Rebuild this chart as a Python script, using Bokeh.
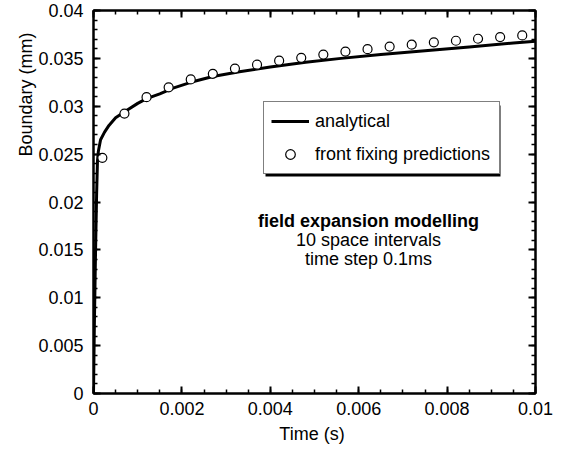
from bokeh.plotting import figure
from bokeh.models import (LinearAxis, SingleIntervalTicker, CustomJSTickFormatter,
                          Legend, LegendItem, Label, Range1d, BoxAnnotation, Title)
from bokeh.embed import file_html
from bokeh.resources import INLINE

# analytical solution
t_analytical = [0.0, 0.00002, 0.000045, 0.00007, 0.00009, 0.00011, 0.00016, 0.00025,
                0.00035, 0.0005, 0.00073, 0.001, 0.0012, 0.0015, 0.0018, 0.0022,
                0.0027, 0.0033, 0.004, 0.0048, 0.0056, 0.0065, 0.0075, 0.0085,
                0.0095, 0.01]
s_analytical = [0.0, 0.0073, 0.0145, 0.0207, 0.0243, 0.0253, 0.0265, 0.0273,
                0.0280, 0.0288, 0.0295, 0.0303, 0.0308, 0.0313, 0.0319, 0.0325,
                0.0331, 0.0336, 0.0341, 0.0346, 0.0350, 0.0354, 0.0358, 0.0362,
                0.0366, 0.0368]

# front fixing predictions
t_pred = [0.0002, 0.0007, 0.0012, 0.0017, 0.0022, 0.0027, 0.0032, 0.0037, 0.0042,
          0.0047, 0.0052, 0.0057, 0.0062, 0.0067, 0.0072, 0.0077, 0.0082, 0.0087,
          0.0092, 0.0097]
s_pred = [0.02461, 0.02923, 0.03095, 0.03198, 0.03280, 0.03339, 0.03393, 0.03434,
          0.03476, 0.03506, 0.03540, 0.03571, 0.03596, 0.03623, 0.03643, 0.03668,
          0.03684, 0.03705, 0.03722, 0.03740]

legend_labels = ["analytical", "front fixing predictions"]
note_lines = ["field expansion modelling", "10 space intervals", "time step 0.1ms"]
x_label = "Time  (s)"
y_label = "Boundary (mm)"

FONT = "Liberation Sans"
FS = "18px"

p = figure(width=554, height=447, x_range=Range1d(0, 0.01), y_range=Range1d(0, 0.04),
           output_backend="svg", toolbar_location=None,
           min_border_left=93, min_border_right=19, min_border_top=10, min_border_bottom=54)
p.grid.visible = False
p.outline_line_color = "black"
p.outline_line_width = 2
p.background_fill_color = "white"
p.border_fill_color = "white"

fmt = CustomJSTickFormatter(code="return String(Number(tick.toFixed(6)));")
xt = SingleIntervalTicker(interval=0.002, num_minor_ticks=4)
yt = SingleIntervalTicker(interval=0.005, num_minor_ticks=5)


def style(ax, labels=True):
    ax.axis_line_width = 2
    ax.axis_line_color = "black"
    ax.major_tick_in = 7
    ax.major_tick_out = 0
    ax.minor_tick_in = 4
    ax.minor_tick_out = 0
    ax.major_tick_line_width = 2
    ax.minor_tick_line_width = 1.5
    ax.major_tick_line_color = "black"
    ax.minor_tick_line_color = "black"
    if labels:
        ax.major_label_text_font = FONT
        ax.major_label_text_font_size = FS
        ax.major_label_text_color = "black"
        ax.axis_label_text_font = FONT
        ax.axis_label_text_font_size = FS
        ax.axis_label_text_font_style = "normal"
        ax.axis_label_text_color = "black"
    else:
        ax.major_label_text_font_size = "0px"
        ax.major_label_standoff = 0


xa = p.xaxis[0]
xa.ticker = xt
xa.formatter = fmt
style(xa)
xa.axis_label = x_label
xa.major_label_standoff = 8
xa.axis_label_standoff = 6

ya = p.yaxis[0]
ya.ticker = yt
ya.formatter = fmt
style(ya)
ya.major_label_standoff = 10

top = LinearAxis(ticker=xt, formatter=CustomJSTickFormatter(code="return '';"))
style(top, labels=False)
p.add_layout(top, "above")
right = LinearAxis(ticker=yt, formatter=CustomJSTickFormatter(code="return '';"))
style(right, labels=False)
p.add_layout(right, "right")

# y axis title, placed near the top of the axis as in the original
p.add_layout(Title(text=y_label, align="right", offset=22, standoff=0,
                   text_font=FONT, text_font_size=FS, text_font_style="normal",
                   text_color="black"), "left")

line_r = p.line(t_analytical, s_analytical, line_width=3, line_color="black")
sc_r = p.scatter(t_pred, s_pred, marker="circle", size=9, fill_color="white",
                 line_color="black", line_width=1.2)

# legend with a drop shadow
LEG_X, LEG_Y = 170, 219
PAD, GW, STAND, LW, LH, SP = 7, 38, 6, 177, 24, 9
leg_w = 2 * PAD + GW + STAND + LW
leg_h = 2 * PAD + 2 * LH + SP
p.add_layout(BoxAnnotation(left=LEG_X + 2, right=LEG_X + leg_w + 2,
                           bottom=LEG_Y - 2, top=LEG_Y + leg_h - 2,
                           left_units="screen", right_units="screen",
                           top_units="screen", bottom_units="screen",
                           fill_color="black", fill_alpha=1, line_color=None))

lg = Legend(items=[LegendItem(label=legend_labels[0], renderers=[line_r]),
                   LegendItem(label=legend_labels[1], renderers=[sc_r])],
            location=(LEG_X, LEG_Y))
lg.label_text_font = FONT
lg.label_text_font_size = FS
lg.label_text_color = "black"
lg.glyph_width = GW
lg.glyph_height = LH
lg.label_height = LH
lg.label_width = LW
lg.label_standoff = STAND
lg.spacing = SP
lg.padding = PAD
lg.margin = 0
lg.border_line_color = "black"
lg.border_line_width = 1
lg.background_fill_alpha = 1
lg.background_fill_color = "white"
p.add_layout(lg, "center")

# notes inside the plot
note_sx = 275
note_sy = [173, 153.5, 134.2]
for i, txt in enumerate(note_lines):
    p.add_layout(Label(x=note_sx, y=note_sy[i], x_units="screen", y_units="screen",
                       text=txt, text_align="center", text_baseline="alphabetic",
                       text_font=FONT, text_font_size=FS,
                       text_font_style="bold" if i == 0 else "normal",
                       text_color="black"))

open("out.html", "w").write(file_html(p, INLINE))
